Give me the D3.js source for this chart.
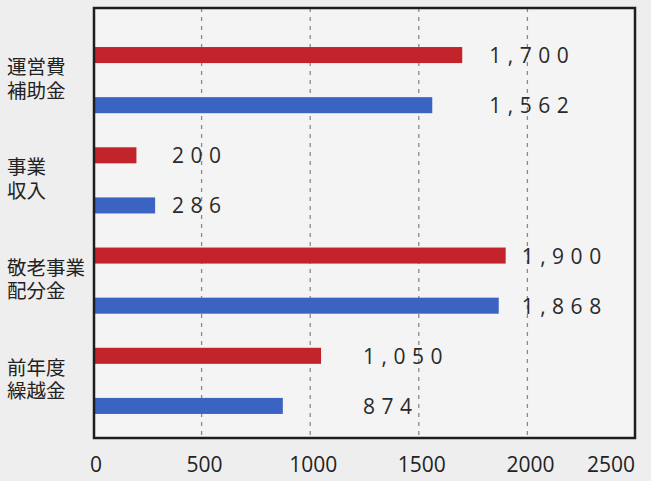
<!DOCTYPE html>
<html lang="ja">
<head>
<meta charset="utf-8">
<script src="https://cdn.jsdelivr.net/npm/d3@7"></script>
<style>
    body { margin: 0; background: #eeeeee; }
    svg { display: block; }
</style>
</head>
<body>
<svg id="chart"></svg>
<script>
// categories (two-line labels) and the two series per category
const categories = [["運営費", "補助金"], ["事業", "収入"], ["敬老事業", "配分金"], ["前年度", "繰越金"]]
const redValues = [1700, 200, 1900, 1050]
const blueValues = [1562, 286, 1868, 874]
const redLabels = ["1,700", "200", "1,900", "1,050"]
const blueLabels = ["1,562", "286", "1,868", "874"]
const xTicks = [0, 500, 1000, 1500, 2000, 2500]

const width = 651
const height = 481
const plot = {left: 94, right: 635, top: 8, bottom: 438}
const labelPad = [27, 17, 16, 42]

const svg = d3.select("#chart")
    .attr("width", width)
    .attr("height", height)

const x = d3.scaleLinear()
    .domain([0, 2500])
    .range([93, 636])

// one row per bar: red then blue for each category
const rows = []
categories.forEach((c, i) => {
    rows.push({cat: i, series: "red", value: redValues[i], label: redLabels[i]})
    rows.push({cat: i, series: "blue", value: blueValues[i], label: blueLabels[i]})
})

const y = d3.scaleBand()
    .domain(d3.range(rows.length))
    .range([30, 431])
    .paddingInner(0.68)
    .paddingOuter(0.34)

const colors = {red: "#c3232b", blue: "#3b63c2"}

svg.append("rect")
    .attr("x", plot.left)
    .attr("y", plot.top)
    .attr("width", plot.right - plot.left)
    .attr("height", plot.bottom - plot.top)
    .attr("fill", "#f4f4f4")

// dashed grid lines
svg.append("g")
    .selectAll("line")
    .data(xTicks.slice(1, -1))
    .join("line")
    .attr("x1", d => x(d))
    .attr("x2", d => x(d))
    .attr("y1", plot.top)
    .attr("y2", plot.bottom)
    .attr("stroke", "#8a8a8a")
    .attr("stroke-width", 1.3)
    .attr("stroke-dasharray", "4,5")

// bars
svg.append("g")
    .selectAll("rect")
    .data(rows)
    .join("rect")
    .attr("x", x(0))
    .attr("y", (d, i) => y(i))
    .attr("width", d => x(d.value) - x(0))
    .attr("height", y.bandwidth())
    .attr("fill", d => colors[d.series])

// value labels, placed after the longer bar of each pair
svg.append("g")
    .selectAll("text")
    .data(rows)
    .join("text")
    .text(d => d.label)
    .attr("x", d => x(Math.max(redValues[d.cat], blueValues[d.cat])) + labelPad[d.cat])
    .attr("y", (d, i) => y(i) + y.bandwidth() / 2)
    .attr("dominant-baseline", "central")
    .attr("font-family", "Open Sans, sans-serif")
    .attr("font-size", 21)
    .attr("letter-spacing", 6.5)
    .attr("fill", "#2a2a2a")

// category labels, one text per line
const catY = i => (y(2 * i) + y(2 * i + 1) + y.bandwidth()) / 2
const catLines = []
categories.forEach((c, i) => c.forEach((t, j) => catLines.push({t, i, j})))
svg.append("g")
    .selectAll("text")
    .data(catLines)
    .join("text")
    .text(d => d.t)
    .attr("x", 7)
    .attr("y", d => catY(d.i) + (d.j === 0 ? -6 : 17.5))
    .attr("font-family", "Liberation Sans, Noto Sans CJK JP, sans-serif")
    .attr("font-size", 19.5)
    .attr("fill", "#222")

// x axis tick labels
svg.append("g")
    .selectAll("text")
    .data(xTicks)
    .join("text")
    .text(d => d)
    .attr("x", (d, i) => i === xTicks.length - 1 ? plot.right : x(d) + 3)
    .attr("y", 472)
    .attr("text-anchor", (d, i) => i === xTicks.length - 1 ? "end" : "middle")
    .attr("font-family", "Open Sans, sans-serif")
    .attr("font-size", 21)
    .attr("fill", "#222")

// frame
svg.append("rect")
    .attr("x", plot.left)
    .attr("y", plot.top)
    .attr("width", plot.right - plot.left)
    .attr("height", plot.bottom - plot.top)
    .attr("fill", "none")
    .attr("stroke", "#1e1e1e")
    .attr("stroke-width", 2.5)
</script>
</body>
</html>
